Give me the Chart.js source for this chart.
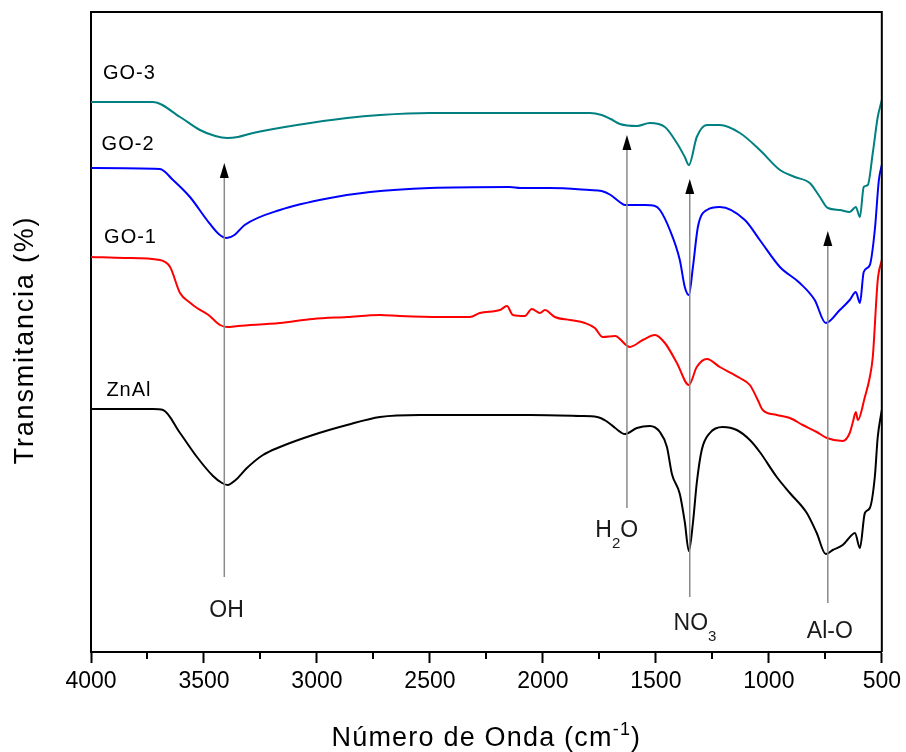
<!DOCTYPE html>
<html>
<head>
<meta charset="utf-8">
<title>FTIR ZnAl / GO</title>
<script src="https://cdn.jsdelivr.net/npm/chart.js@4.4.1/dist/chart.umd.min.js"></script>
<style>
  body { margin: 0; background: #fff; }
  #grafico { display: block; }
</style>
</head>
<body>
<canvas id="grafico" width="906" height="752"></canvas>
<script>
// numero de onda (cm-1) e transmitancia (unidades arbitrarias, curvas deslocadas)
const ondaZnAl = [4000, 3850, 3726, 3681, 3606, 3531, 3460, 3420, 3395, 3360, 3310, 3239, 3164, 3018, 2867, 2721, 2544, 2323, 2058, 1836, 1760, 1720, 1680, 1637, 1584, 1527, 1482, 1451, 1429, 1394, 1372, 1354, 1336, 1319, 1297, 1261, 1204, 1142, 1084, 1040, 965, 907, 832, 788, 748, 717, 673, 633, 619, 597, 575, 553, 531, 518, 500]
const transZnAl = [243, 243, 243, 242, 219, 195, 176, 169, 167, 172, 184, 197, 205, 217, 227, 235, 237, 237, 237, 236, 235, 231, 224, 218, 224, 226, 220, 205, 178, 158, 130, 101, 129, 169, 202, 219, 225, 222, 212, 200, 175, 159, 139, 119, 98, 102, 107, 117, 119, 104, 139, 144, 175, 215, 242]

const ondaGO1 = [4000, 3850, 3695, 3650, 3606, 3560, 3531, 3480, 3429, 3398, 3350, 3164, 3018, 2867, 2721, 2633, 2456, 2323, 2279, 2190, 2159, 2133, 2080, 2049, 2013, 1991, 1947, 1880, 1814, 1770, 1735, 1681, 1615, 1558, 1504, 1460, 1407, 1354, 1319, 1274, 1217, 1128, 1084, 1049, 1027, 965, 907, 850, 788, 743, 673, 642, 628, 615, 606, 575, 553, 540, 518, 500]
const transGO1 = [395, 394, 392, 385, 359, 349, 344, 337, 327, 325, 326, 329, 333, 335, 337, 336, 335, 335, 339, 342, 346, 337, 336, 343, 339, 342, 335, 332, 329, 324, 315, 316, 305, 312, 317, 309, 289, 267, 285, 293, 285, 274, 267, 252, 242, 237, 234, 227, 220, 214, 211, 219, 230, 240, 232, 255, 275, 295, 372, 392]

const ondaGO2 = [4000, 3695, 3637, 3562, 3487, 3435, 3400, 3365, 3320, 3164, 2942, 2765, 2500, 2146, 2100, 1969, 1792, 1740, 1700, 1660, 1637, 1549, 1504, 1482, 1438, 1394, 1372, 1354, 1336, 1314, 1274, 1217, 1106, 1040, 951, 863, 797, 748, 686, 642, 615, 597, 580, 553, 531, 513, 500]
const transGO2 = [484, 483, 472, 455, 432, 418, 414, 417, 427, 442, 454, 460, 464, 465, 464, 464, 462, 461, 457, 450, 447, 447, 446, 442, 422, 392, 365, 357, 385, 425, 442, 445, 432, 412, 385, 369, 352, 329, 342, 352, 360, 349, 380, 387, 422, 472, 487]

const ondaGO3 = [4000, 3726, 3606, 3518, 3450, 3398, 3350, 3283, 3088, 2867, 2721, 2500, 1969, 1792, 1740, 1700, 1659, 1584, 1527, 1460, 1407, 1372, 1354, 1319, 1274, 1217, 1128, 1040, 951, 885, 819, 774, 739, 686, 642, 615, 597, 580, 562, 540, 518, 500]
const transGO3 = [550, 550, 535, 522, 516, 514, 515, 519, 527, 534, 537, 539, 539, 539, 537, 533, 528, 526, 529, 525, 509, 495, 487, 515, 527, 527, 519, 502, 482, 475, 469, 455, 444, 442, 440, 445, 435, 465, 467, 499, 535, 552]

const ticksX = [4000, 3500, 3000, 2500, 2000, 1500, 1000, 500]
const ticksMenores = [3750, 3250, 2750, 2250, 1750, 1250, 750]

function pontos(onda, trans) {
  return onda.map((w, i) => ({ x: w, y: trans[i] }))
}

const fonte = '"Liberation Sans", Arial, sans-serif'

// rotulos das curvas (posicao em unidades do grafico)
const rotulos = [
  { texto: 'GO-3', x: 3830, y: 573 },
  { texto: 'GO-2', x: 3836, y: 502 },
  { texto: 'GO-1', x: 3825, y: 409 },
  { texto: 'ZnAl', x: 3832, y: 256 }
]

// bandas: seta (onda, base, ponta) e texto
const bandas = [
  { onda: 3410, base: 75, ponta: 489, partes: [['OH', 'n']], tx: 3400, ty: 35 },
  { onda: 1628, base: 144, ponta: 517, partes: [['H', 'n'], ['2', 'sub'], ['O', 'n']], tx: 1673, ty: 115 },
  { onda: 1350, base: 55, ponta: 473, partes: [['NO', 'n'], ['3', 'sub']], tx: 1327, ty: 22 },
  { onda: 739, base: 49, ponta: 421, partes: [['Al-O', 'n']], tx: 730, ty: 14 }
]

function textoComIndice(ctx, partes, xc, yBase, tam) {
  let larg = 0
  partes.forEach(p => {
    ctx.font = (p[1] === 'n' ? tam : Math.round(tam * 0.65)) + 'px ' + fonte
    larg += ctx.measureText(p[0]).width
  })
  let x = xc - larg / 2
  partes.forEach(p => {
    const t = p[1] === 'n' ? tam : Math.round(tam * 0.65)
    ctx.font = t + 'px ' + fonte
    let dy = 0
    if (p[1] === 'sub') dy = tam * 0.46
    if (p[1] === 'sup') dy = -tam * 0.4
    ctx.fillText(p[0], x, yBase + dy)
    x += ctx.measureText(p[0]).width
  })
}

const extras = {
  id: 'extras',
  afterDraw(chart) {
    const ctx = chart.ctx
    const area = chart.chartArea
    const sx = chart.scales.x
    const sy = chart.scales.y
    ctx.save()

    // moldura superior e direita
    ctx.strokeStyle = '#000'
    ctx.lineWidth = 2
    ctx.beginPath()
    ctx.moveTo(area.left, area.top)
    ctx.lineTo(area.right, area.top)
    ctx.lineTo(area.right, area.bottom)
    ctx.stroke()

    // ticks menores
    ctx.beginPath()
    ticksMenores.forEach(v => {
      const px = Math.round(sx.getPixelForValue(v))
      ctx.moveTo(px, area.bottom)
      ctx.lineTo(px, area.bottom + 7)
    })
    ctx.stroke()

    // setas das bandas
    bandas.forEach(b => {
      const px = sx.getPixelForValue(b.onda)
      const yb = sy.getPixelForValue(b.base)
      const yp = sy.getPixelForValue(b.ponta)
      ctx.strokeStyle = '#8a8a8a'
      ctx.lineWidth = 1.5
      ctx.beginPath()
      ctx.moveTo(px, yb)
      ctx.lineTo(px, yp + 12)
      ctx.stroke()
      ctx.fillStyle = '#000'
      ctx.beginPath()
      ctx.moveTo(px, yp)
      ctx.lineTo(px - 4.5, yp + 15)
      ctx.lineTo(px + 4.5, yp + 15)
      ctx.closePath()
      ctx.fill()
    })

    // textos das bandas
    ctx.fillStyle = '#1a1a1a'
    ctx.textAlign = 'left'
    ctx.textBaseline = 'alphabetic'
    bandas.forEach(b => {
      textoComIndice(ctx, b.partes, sx.getPixelForValue(b.tx), sy.getPixelForValue(b.ty), 23)
    })

    // rotulos das curvas
    ctx.fillStyle = '#000'
    ctx.textAlign = 'center'
    ctx.font = '20px ' + fonte
    ctx.letterSpacing = '1px'
    rotulos.forEach(r => {
      ctx.fillText(r.texto, sx.getPixelForValue(r.x), sy.getPixelForValue(r.y))
    })

    // titulos dos eixos
    ctx.letterSpacing = '1.2px'
    ctx.textAlign = 'left'
    const partesX = [['Número de Onda (cm', 'n'], ['-1', 'sup'], [')', 'n']]
    textoComIndice(ctx, partesX, (area.left + area.right) / 2, 746, 27)

    ctx.letterSpacing = '1.8px'
    ctx.translate(33, (area.top + area.bottom) / 2 + 8)
    ctx.rotate(-Math.PI / 2)
    ctx.textAlign = 'center'
    ctx.font = '27px ' + fonte
    ctx.fillText('Transmitancia (%)', 0, 0)
    ctx.restore()
  }
}

const ctx = document.getElementById('grafico')

const data = {
  datasets: [
    { label: 'ZnAl', data: pontos(ondaZnAl, transZnAl), borderColor: '#000000' },
    { label: 'GO-1', data: pontos(ondaGO1, transGO1), borderColor: '#ff0000' },
    { label: 'GO-2', data: pontos(ondaGO2, transGO2), borderColor: '#0000ff' },
    { label: 'GO-3', data: pontos(ondaGO3, transGO3), borderColor: '#008080' }
  ]
}

const config = {
  type: 'line',
  data: data,
  options: {
    responsive: false,
    animation: false,
    devicePixelRatio: 1,
    layout: { padding: { top: 12, right: 24, left: 0, bottom: 0 } },
    elements: {
      point: { radius: 0 },
      line: { borderWidth: 2, cubicInterpolationMode: 'monotone', fill: false }
    },
    plugins: {
      legend: { display: false },
      tooltip: { enabled: false }
    },
    scales: {
      x: {
        type: 'linear',
        reverse: true,
        min: 500,
        max: 4000,
        afterBuildTicks: scale => { scale.ticks = ticksX.map(v => ({ value: v })) },
        afterFit: scale => { scale.height = 100 },
        ticks: {
          color: '#000',
          font: { family: fonte, size: 23 },
          padding: 5,
          maxRotation: 0,
          autoSkip: false,
          callback: value => String(value)
        },
        grid: { drawOnChartArea: false, tickLength: 11, tickWidth: 2, tickColor: '#000' },
        border: { display: true, width: 2, color: '#000' }
      },
      y: {
        min: 0,
        max: 640,
        afterFit: scale => { scale.width = 91 },
        ticks: { display: false },
        grid: { display: false },
        border: { display: true, width: 2, color: '#000' }
      }
    }
  },
  plugins: [extras]
}

const grafico = new Chart(ctx, config)
</script>
</body>
</html>
